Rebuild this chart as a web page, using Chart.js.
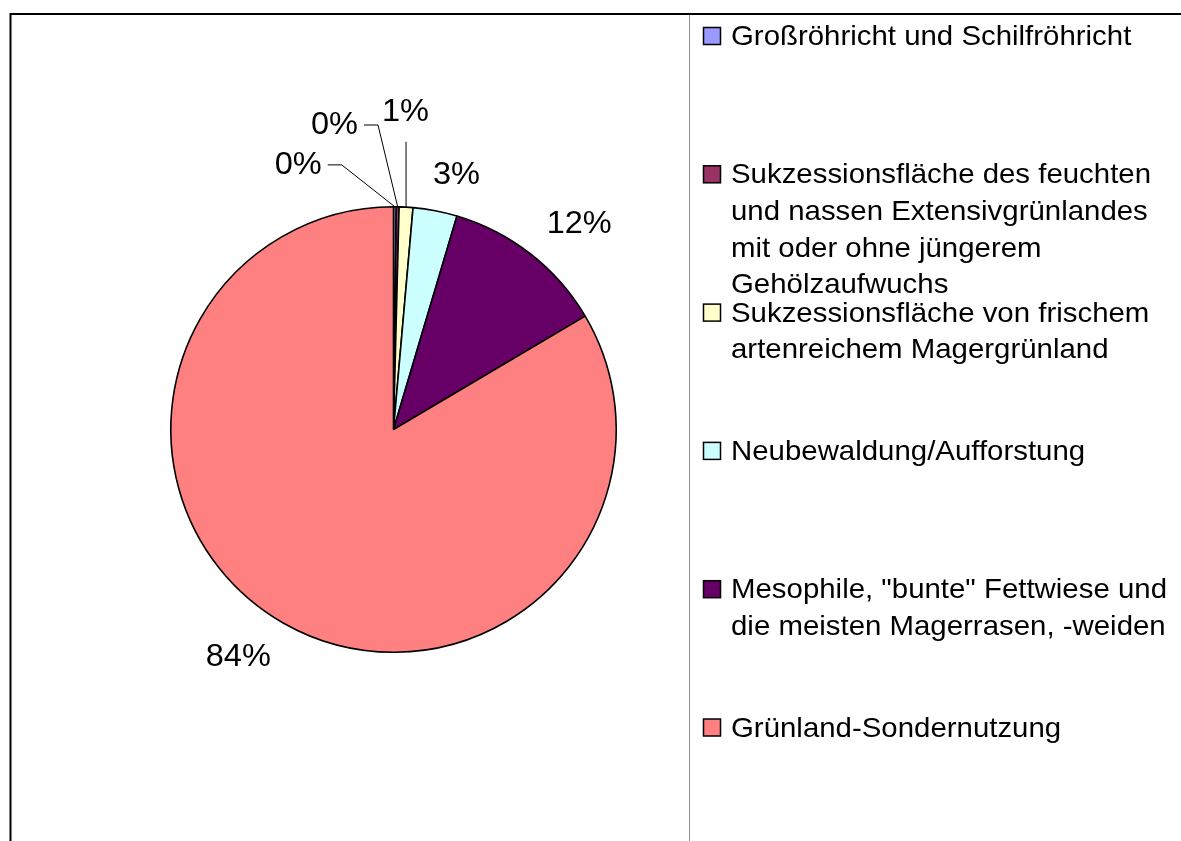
<!DOCTYPE html>
<html lang="de">
<head>
<meta charset="utf-8">
<title>Biotoptypen – Anteile</title>
<script src="https://cdn.jsdelivr.net/npm/chart.js@4.4.1/dist/chart.umd.min.js"></script>
<style>
  html, body { margin: 0; padding: 0; background: #fff; overflow: hidden; }
</style>
</head>
<body>
<canvas id="pieChart" width="1181" height="841"></canvas>
<script>
// data (shares in %)
const categories = [
    ['Großröhricht und Schilfröhricht'],
    ['Sukzessionsfläche des feuchten', 'und nassen Extensivgrünlandes', 'mit oder ohne jüngerem', 'Gehölzaufwuchs'],
    ['Sukzessionsfläche von frischem', 'artenreichem Magergrünland'],
    ['Neubewaldung/Aufforstung'],
    ['Mesophile, "bunte" Fettwiese und', 'die meisten Magerrasen, -weiden'],
    ['Grünland-Sondernutzung']
];
const shares = [0.2, 0.2, 1.0, 3.2, 11.9, 83.5];
const sliceColors = ['#9999ff', '#993366', '#ffffcc', '#ccffff', '#660066', '#ff8080'];

// where the percent labels sit, in units of the pie radius from its centre
const labelSpots = [
    { dx: -0.428, dy: -1.186, lead: 'right' },
    { dx: -0.265, dy: -1.365, lead: 'right' },
    { dx: 0.054, dy: -1.422, lead: 'bottom' },
    { dx: 0.283, dy: -1.139 },
    { dx: 0.834, dy: -0.919 },
    { dx: -0.697, dy: 1.025 }
];

const FONT = '"Liberation Sans", Arial, sans-serif';
const STRETCH = 1.05; // source picture is slightly wider than tall

function stretchText(ctx, text, x, y, align) {
    ctx.save();
    ctx.translate(x, y);
    ctx.scale(STRETCH, 1);
    ctx.textAlign = align;
    ctx.fillText(text, 0, 0);
    ctx.restore();
}

const framePlugin = {
    id: 'frame',
    beforeDraw(chart) {
        const ctx = chart.ctx;
        ctx.save();
        ctx.fillStyle = '#fff';
        ctx.fillRect(0, 0, chart.width, chart.height);
        ctx.strokeStyle = '#000';
        ctx.lineWidth = 2;
        ctx.beginPath();
        ctx.moveTo(10.5, chart.height);
        ctx.lineTo(10.5, 14);
        ctx.lineTo(chart.width, 14);
        ctx.stroke();
        ctx.strokeStyle = '#909090';
        ctx.lineWidth = 1;
        ctx.beginPath();
        ctx.moveTo(689.5, 15);
        ctx.lineTo(689.5, chart.height);
        ctx.stroke();
        ctx.restore();
    }
};

const percentLabels = {
    id: 'percentLabels',
    afterDatasetsDraw(chart) {
        const ctx = chart.ctx;
        const meta = chart.getDatasetMeta(0);
        const total = shares.reduce((a, b) => a + b, 0);
        ctx.save();
        ctx.font = '31px ' + FONT;
        ctx.fillStyle = '#000';
        ctx.strokeStyle = '#000';
        ctx.lineWidth = 1;
        ctx.textBaseline = 'middle';
        meta.data.forEach((arc, i) => {
            const p = arc.getProps(['x', 'y', 'startAngle', 'endAngle', 'outerRadius'], true);
            const spot = labelSpots[i];
            const cx = p.x + spot.dx * p.outerRadius;
            const cy = p.y + spot.dy * p.outerRadius;
            const text = Math.round(shares[i] / total * 100) + '%';
            stretchText(ctx, text, cx, cy, 'center');

            if (spot.lead) {
                const mid = (p.startAngle + p.endAngle) / 2;
                const ex = p.x + Math.cos(mid) * p.outerRadius;
                const ey = p.y + Math.sin(mid) * p.outerRadius;
                const half = ctx.measureText(text).width * STRETCH / 2;
                ctx.beginPath();
                if (spot.lead === 'right') {
                    ctx.moveTo(cx + half + 6, cy - 0.5);
                    ctx.lineTo(cx + half + 20, cy - 0.5);
                } else {
                    ctx.moveTo(cx + 0.5, cy + 29);
                }
                ctx.lineTo(ex, ey);
                ctx.stroke();
            }
        });
        ctx.restore();
    }
};

const sideLegend = {
    id: 'sideLegend',
    afterDraw(chart) {
        const ctx = chart.ctx;
        const colors = chart.data.datasets[0].backgroundColor;
        ctx.save();
        ctx.font = '28px ' + FONT;
        ctx.fillStyle = '#000';
        ctx.textBaseline = 'alphabetic';
        chart.data.labels.forEach((lines, i) => {
            const base = 45 + 138.3 * i;
            ctx.fillStyle = colors[i];
            ctx.fillRect(703.5, base - 17.5, 17, 17);
            ctx.strokeStyle = '#000';
            ctx.lineWidth = 1.5;
            ctx.strokeRect(703.5, base - 17.5, 17, 17);
            ctx.fillStyle = '#000';
            lines.forEach((line, j) => stretchText(ctx, line, 731, base + j * 36.6, 'left'));
        });
        ctx.restore();
    }
};

new Chart(document.getElementById('pieChart').getContext('2d'), {
    type: 'pie',
    data: {
        labels: categories,
        datasets: [{
            data: shares,
            backgroundColor: sliceColors,
            borderColor: '#000',
            borderWidth: 1.6
        }]
    },
    options: {
        responsive: false,
        animation: false,
        layout: { padding: { left: 170, top: 206, right: 564, bottom: 188 } },
        plugins: {
            legend: { display: false },
            tooltip: { enabled: false }
        }
    },
    plugins: [framePlugin, percentLabels, sideLegend]
});
</script>
</body>
</html>
